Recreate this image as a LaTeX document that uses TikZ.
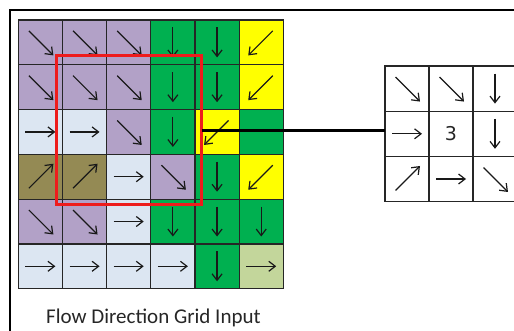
\documentclass[tikz,border=0pt]{standalone}
\usepackage{fontspec}
\setmainfont{Carlito}
\newfontfamily\numfont{DejaVu Sans}
\usetikzlibrary{arrows.meta}
\definecolor{pur}{HTML}{B2A1C7}
\definecolor{lbl}{HTML}{DCE6F2}
\definecolor{grn}{HTML}{00B050}
\definecolor{yel}{HTML}{FFFF00}
\definecolor{olv}{HTML}{948A54}
\definecolor{lgr}{HTML}{C3D69B}
\definecolor{selred}{HTML}{EE1C1C}
\tikzset{
  gridcell/.style={draw=black!85, line width=1.2pt, minimum width=44.17pt, minimum height=44.78pt, inner sep=0pt, outer sep=0pt},
  zcell/.style={draw=black!85, line width=1.2pt, minimum width=44pt, minimum height=45.2pt, inner sep=0pt, outer sep=0pt, fill=white},
  fa/.style={-{Straight Barb[length=6.5pt,width=10pt,line width=1.2pt]}, line width=1.2pt, black!90},
  selbox/.style={draw=selred, line width=3pt, inner sep=0pt, outer sep=0pt},
  conn/.style={line width=2.8pt, black},
  framebar/.style={line width=2.2pt, black}
}
\begin{document}
\begin{tikzpicture}[x=1pt,y=-1pt]
\useasboundingbox (0,0) rectangle (514,331);
\clip (0,0) rectangle (514,331);
\fill[white] (0,0) rectangle (514,331);
% frame
\coordinate (fbl) at (10,331);
\coordinate (ftl) at (10,10);
\coordinate (ftr) at (514,10);
\draw[framebar] (fbl) -- (ftl) -- (ftr);
% main grid
\foreach \r/\c/\col/\dx/\dy in {
 1/1/pur/1/1, 1/2/pur/1/1, 1/3/pur/1/1, 1/4/grn/0/1, 1/5/grn/0/1, 1/6/yel/-1/1,
 2/1/pur/1/1, 2/2/pur/1/1, 2/3/pur/1/1, 2/4/grn/0/1, 2/5/grn/0/1, 2/6/yel/-1/1,
 3/1/lbl/1/0, 3/2/lbl/1/0, 3/3/pur/1/1, 3/4/grn/0/1, 3/5/yel/-1/1, 3/6/grn/0/0,
 4/1/olv/1/-1, 4/2/olv/1/-1, 4/3/lbl/1/0, 4/4/pur/1/1, 4/5/grn/0/1, 4/6/yel/-1/1,
 5/1/pur/1/1, 5/2/pur/1/1, 5/3/lbl/1/0, 5/4/grn/0/1, 5/5/grn/0/1, 5/6/grn/0/1,
 6/1/lbl/1/0, 6/2/lbl/1/0, 6/3/lbl/1/0, 6/4/lbl/1/0, 6/5/grn/0/1, 6/6/lgr/1/0}{
  \node[gridcell, fill=\col] (m-\r-\c) at ({18.3+(\c-0.5)*44.17},{20+(\r-0.5)*44.78}) {};
  \pgfmathtruncatemacro\z{abs(\dx)+abs(\dy)}
  \pgfmathsetmacro\a{(\z==2) ? 11.5 : 15}
  \pgfmathsetmacro\b{(\z==2) ? 13 : 15}
  \ifnum\z>0
    \draw[fa] ([shift={({-\a*(\dx)},{-\a*(\dy)})}]m-\r-\c.center) -- ([shift={({\b*(\dx)},{\b*(\dy)})}]m-\r-\c.center);
  \fi
}
% zoomed grid
\foreach \r/\c/\dx/\dy in {
 1/1/1/1, 1/2/1/1, 1/3/0/1,
 2/1/1/0, 2/2/0/0, 2/3/0/1,
 3/1/1/-1, 3/2/1/0, 3/3/1/1}{
  \node[zcell] (z-\r-\c) at ({385+(\c-0.5)*44},{66+(\r-0.5)*45.2}) {};
  \pgfmathtruncatemacro\z{abs(\dx)+abs(\dy)}
  \pgfmathsetmacro\a{(\z==2) ? 11.5 : 15}
  \pgfmathsetmacro\b{(\z==2) ? 13 : 15}
  \ifnum\z>0
    \draw[fa] ([shift={({-\a*(\dx)},{-\a*(\dy)})}]z-\r-\c.center) -- ([shift={({\b*(\dx)},{\b*(\dy)})}]z-\r-\c.center);
  \fi
}
\node[font=\numfont\fontsize{19}{19}\selectfont, text=black!85] (three) at (z-2-2.center) {3};
% selection box and connector
\node[selbox, anchor=north west, minimum width=145.7pt, minimum height=149pt] (sel) at (56,56) {};
\draw[conn] (sel.east) -- (sel.east -| z-2-1.west);
% caption
\node[font=\fontsize{21}{23}\selectfont, text=black!85, anchor=base west, inner sep=0pt] (cap) at (46,323.3) {Flow Direction Grid Input};
\end{tikzpicture}
\end{document}
